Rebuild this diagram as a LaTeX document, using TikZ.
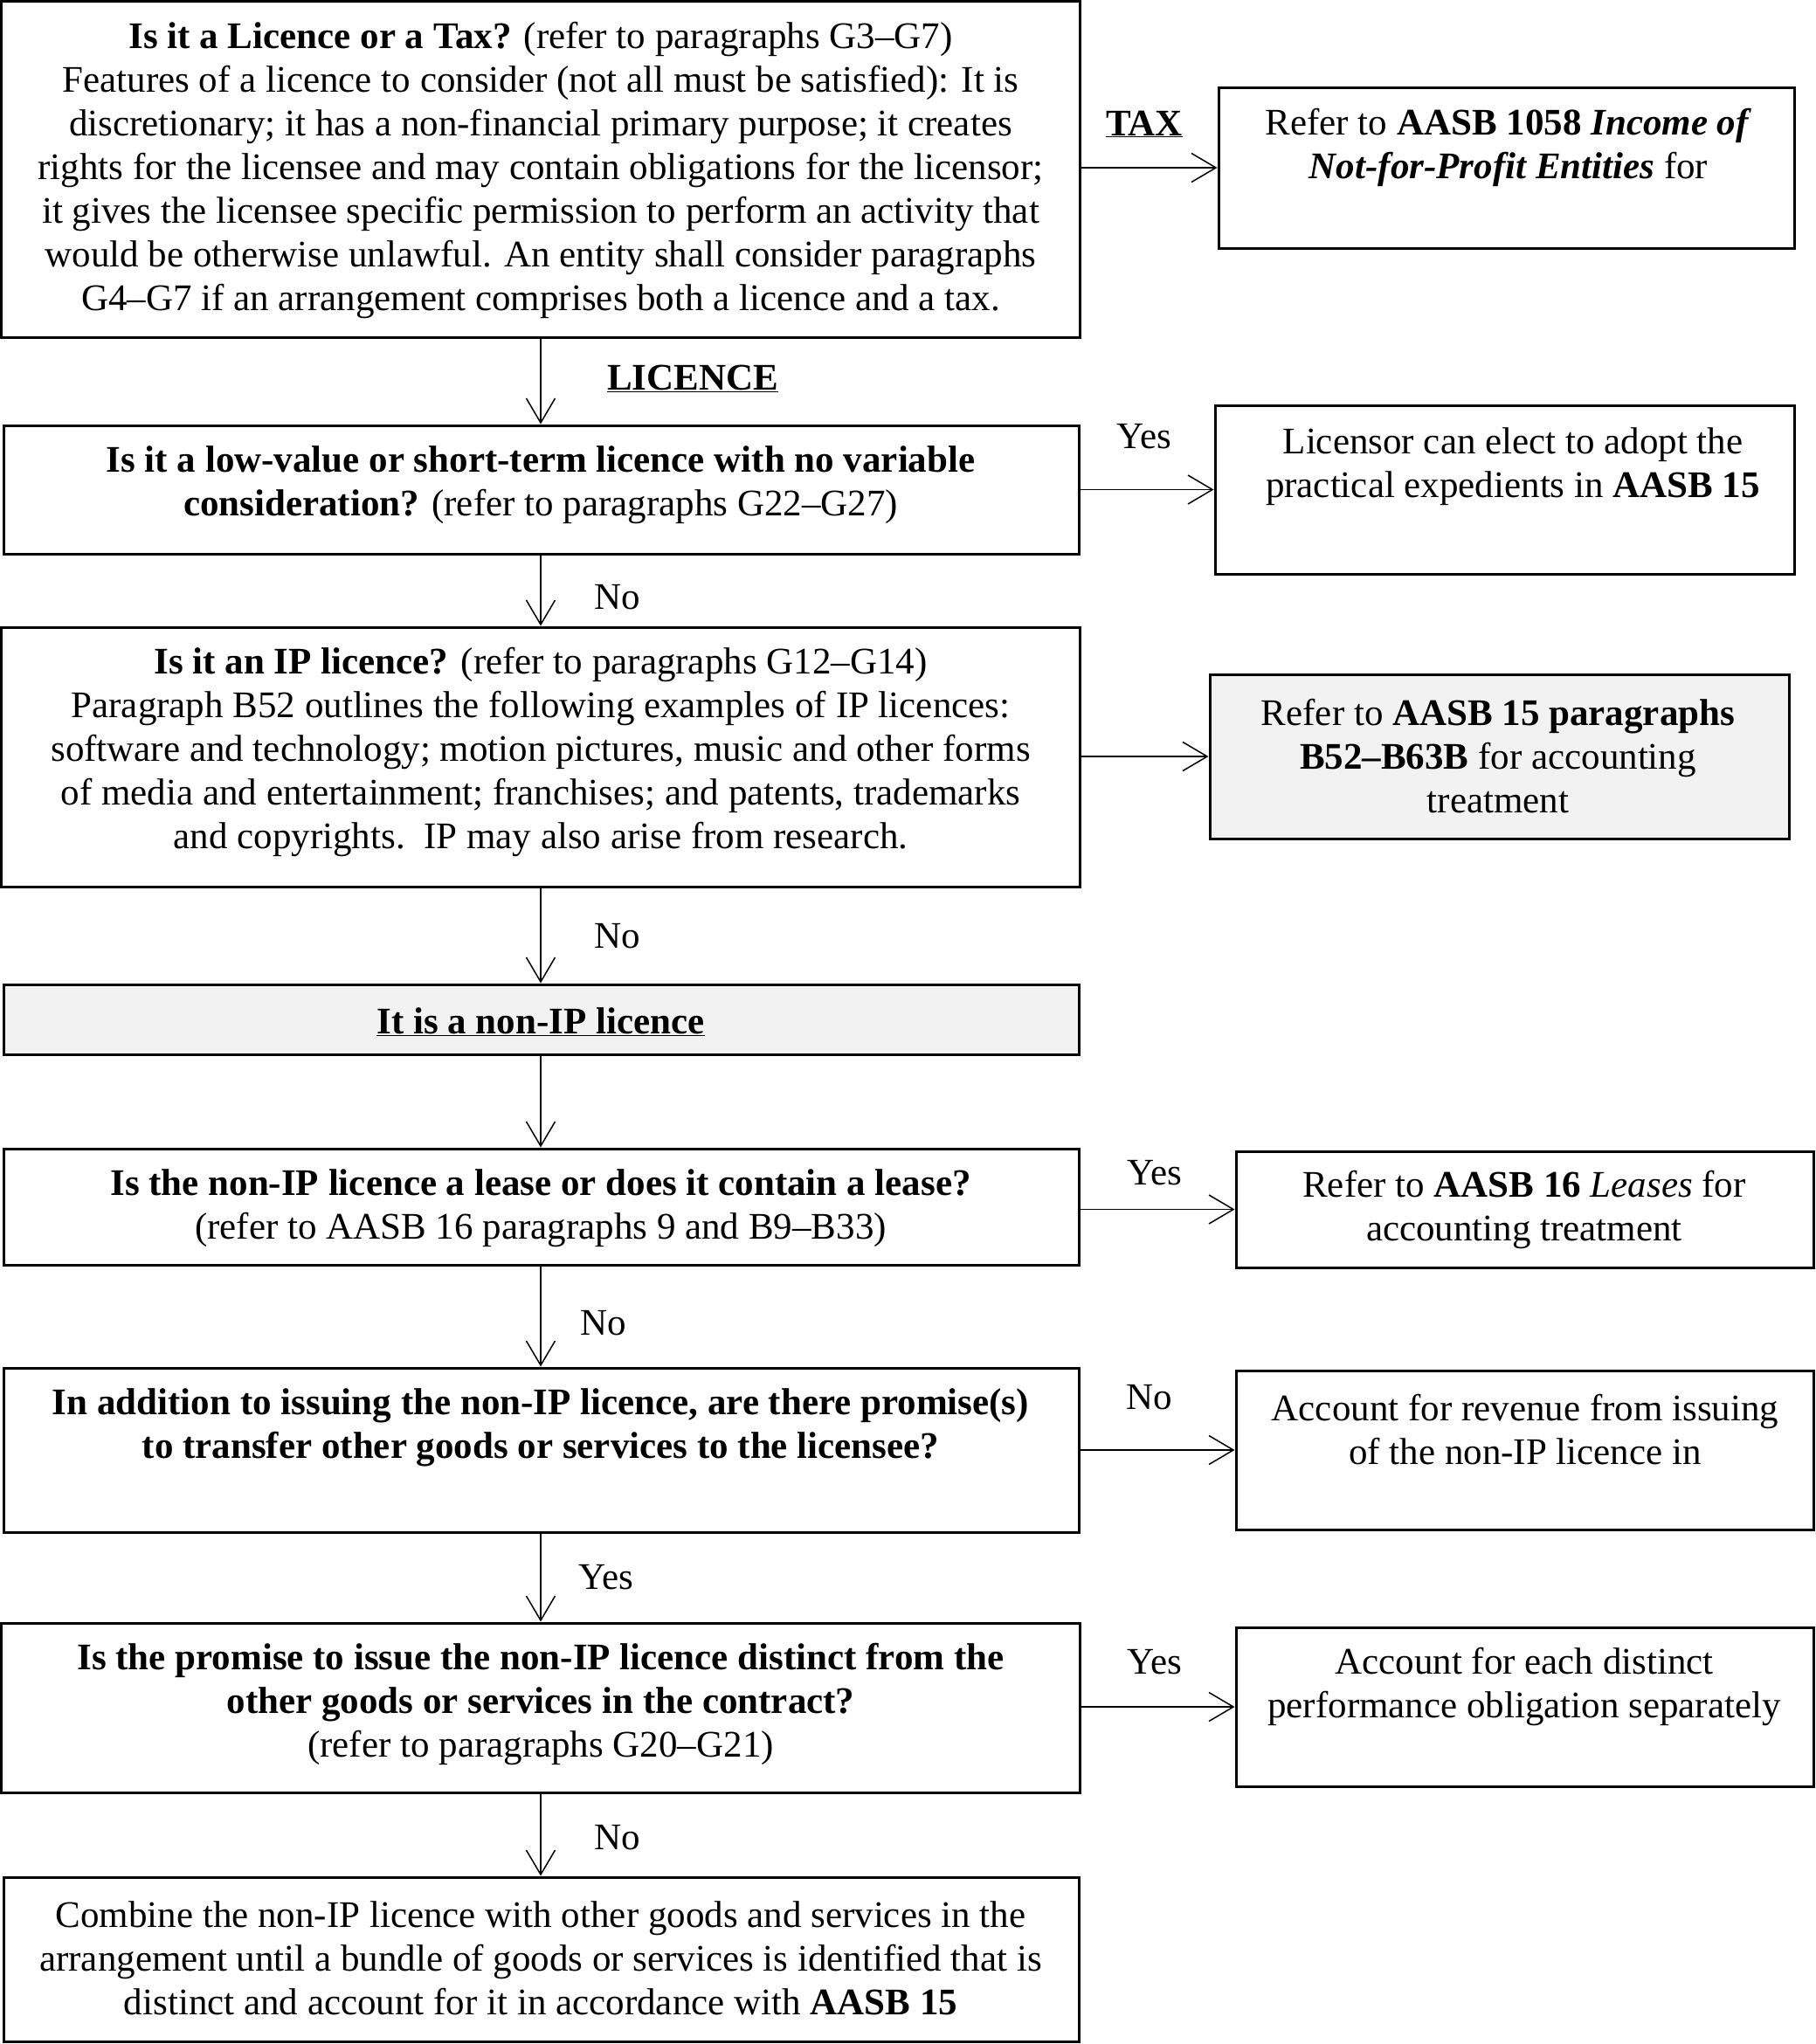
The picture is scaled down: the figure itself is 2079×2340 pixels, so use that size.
\documentclass[tikz,border=0pt]{standalone}
\usepackage{fontspec}
\setmainfont{Liberation Serif}
\usetikzlibrary{arrows.meta}
\definecolor{boxgray}{HTML}{F2F2F2}
\begin{document}
\begin{tikzpicture}[x=1pt,y=-1pt,
  box/.style={draw, line width=3pt, inner sep=0pt},
  graybox/.style={box, fill=boxgray},
  txt/.style={inner sep=0pt, align=center, font=\fontsize{43}{50}\selectfont},
  arr/.style={line width=1.5pt, -{Straight Barb[length=28pt,width=33pt,line width=1.5pt]}}]
\useasboundingbox (0,0) rectangle (2079,2340);

% boxes
\node[box, minimum width=1235, minimum height=385] (b1) at (619,194) {};
\node[box, minimum width=659, minimum height=184] (tax) at (1724.5,192) {};
\node[box, minimum width=1231, minimum height=147] (b2) at (620,560.5) {};
\node[box, minimum width=663, minimum height=193] (b2r) at (1722.5,560.5) {};
\node[box, minimum width=1235, minimum height=297] (b3) at (619,866.5) {};
\node[graybox, minimum width=663, minimum height=188] (b3r) at (1716.5,866) {};
\node[graybox, minimum width=1231, minimum height=80] (b4) at (620,1167) {};
\node[box, minimum width=1231, minimum height=133] (b5) at (620,1381.5) {};
\node[box, minimum width=661, minimum height=133] (b5r) at (1745.5,1384.5) {};
\node[box, minimum width=1231, minimum height=188] (b6) at (620,1660) {};
\node[box, minimum width=661, minimum height=182] (b6r) at (1745.5,1660) {};
\node[box, minimum width=1235, minimum height=194] (b7) at (619,1955) {};
\node[box, minimum width=661, minimum height=182] (b7r) at (1745.5,1954) {};
\node[box, minimum width=1231, minimum height=188] (b8) at (620,2243) {};

% texts
\node[txt] (t1) at (619,195) {\textbf{Is it a Licence or a Tax?} (refer to paragraphs G3–G7)\\
Features of a licence to consider (not all must be satisfied): It is\\
discretionary; it has a non-financial primary purpose; it creates\\
rights for the licensee and may contain obligations for the licensor;\\
it gives the licensee specific permission to perform an activity that\\
would be otherwise unlawful. An entity shall consider paragraphs\\
G4–G7 if an arrangement comprises both a licence and a tax.};
\node[txt] (ttax) at (1727,169) {Refer to \textbf{AASB 1058} \textbf{\textit{Income of}}\\
\textbf{\textit{Not-for-Profit Entities}} for};
\node[txt] (t2) at (619,555) {\textbf{Is it a low-value or short-term licence with no variable}\\
\textbf{consideration?} (refer to paragraphs G22–G27)};
\node[txt] (t2r) at (1732,534) {Licensor can elect to adopt the\\
practical expedients in \textbf{AASB 15}};
\node[txt] (t3) at (619,861) {\textbf{Is it an IP licence?} (refer to paragraphs G12–G14)\\
Paragraph B52 outlines the following examples of IP licences:\\
software and technology; motion pictures, music and other forms\\
of media and entertainment; franchises; and patents, trademarks\\
and copyrights.\ \ IP may also arise from research.};
\node[txt] (t3r) at (1715,866) {Refer to \textbf{AASB 15 paragraphs}\\
\textbf{B52–B63B} for accounting\\
treatment};
\node[txt] (t4) at (619,1170) {\textbf{\underline{It is a non-IP licence}}};
\node[txt] (t5) at (619,1383) {\textbf{Is the non-IP licence a lease or does it contain a lease?}\\
(refer to AASB 16 paragraphs 9 and B9–B33)};
\node[txt] (t5r) at (1745,1385) {Refer to \textbf{AASB 16} \textit{Leases} for\\
accounting treatment};
\node[txt] (t6) at (619,1634) {\textbf{In addition to issuing the non-IP licence, are there promise(s)}\\
\textbf{to transfer other goods or services to the licensee?}};
\node[txt] (t6r) at (1746,1637) {Account for revenue from issuing\\
of the non-IP licence in};
\node[txt] (t7) at (619,1951) {\textbf{Is the promise to issue the non-IP licence distinct from the}\\
\textbf{other goods or services in the contract?}\\
(refer to paragraphs G20–G21)};
\node[txt] (t7r) at (1745,1931) {Account for each distinct\\
performance obligation separately};
\node[txt] (t8) at (619,2242) {Combine the non-IP licence with other goods and services in the\\
arrangement until a bundle of goods or services is identified that is\\
distinct and account for it in accordance with \textbf{AASB 15}};

% connector labels
\node[txt] (ltax) at (1310,142) {\textbf{\underline{TAX}}};
\node[txt] (llic) at (793,433) {\textbf{\underline{LICENCE}}};
\node[txt] (l2) at (1310,500) {Yes};
\node[txt] (l23) at (707,684) {No};
\node[txt] (l34) at (707,1072) {No};
\node[txt] (l5) at (1322,1343) {Yes};
\node[txt] (l56) at (691,1515) {No};
\node[txt] (l6) at (1316,1600) {No};
\node[txt] (l67) at (694,1806) {Yes};
\node[txt] (l7) at (1322,1903) {Yes};
\node[txt] (l78) at (707,2104) {No};

% connectors
\draw[arr] (b1.east |- tax.west) -- (tax.west);
\draw[arr] (b2.east |- b2r.west) -- (b2r.west);
\draw[arr] (b3.east |- b3r.west) -- (b3r.west);
\draw[arr] (b5.east |- b5r.west) -- (b5r.west);
\draw[arr] (b6.east |- b6r.west) -- (b6r.west);
\draw[arr] (b7.east |- b7r.west) -- (b7r.west);
\draw[arr] (b1.south) -- (b1.south |- b2.north);
\draw[arr] (b1.south |- b2.south) -- (b1.south |- b3.north);
\draw[arr] (b1.south |- b3.south) -- (b1.south |- b4.north);
\draw[arr] (b1.south |- b4.south) -- (b1.south |- b5.north);
\draw[arr] (b1.south |- b5.south) -- (b1.south |- b6.north);
\draw[arr] (b1.south |- b6.south) -- (b1.south |- b7.north);
\draw[arr] (b1.south |- b7.south) -- (b1.south |- b8.north);
\end{tikzpicture}
\end{document}
